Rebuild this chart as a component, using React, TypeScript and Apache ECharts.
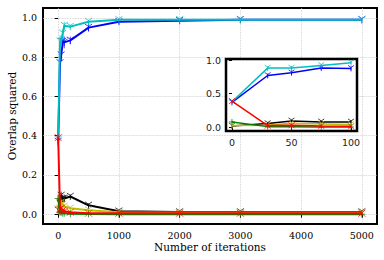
import React, { useEffect, useRef } from "react";
import * as echarts from "echarts";

const iterations = [0, 30, 50, 75, 100, 200, 500, 1000, 2000, 3000, 5000];
const blueVals = [0.37, 0.77, 0.81, 0.88, 0.875, 0.885, 0.95, 0.98, 0.985, 0.99, 0.99];
const cyanVals = [0.38, 0.88, 0.88, 0.92, 0.96, 0.955, 0.98, 0.99, 0.99, 0.99, 0.99];
const redVals = [0.39, 0.025, 0.03, 0.02, 0.015, 0.01, 0.005, 0.005, 0.005, 0.005, 0.005];
const blackVals = [0.02, 0.055, 0.095, 0.08, 0.08, 0.09, 0.045, 0.015, 0.011, 0.011, 0.011];
const yellowVals = [0.025, 0.03, 0.06, 0.05, 0.04, 0.03, 0.02, 0.01, 0.008, 0.008, 0.008];
const greenVals = [0.08, 0.01, 0.01, 0.005, 0.005, 0.002, 0.001, 0, 0, 0, 0];

const blueErr = [0.02, 0.03, 0.03, 0.03, 0.03, 0.02, 0.02, 0.01, 0.005, 0.003, 0.003];
const cyanErr = [0.02, 0.03, 0.03, 0.02, 0.02, 0.01, 0.01, 0.005, 0.003, 0.003, 0.003];
const redErr = [0.02, 0.01, 0.01, 0.01, 0.01, 0.005, 0.003, 0.002, 0.002, 0.002, 0.002];
const blackErr = [0.01, 0.02, 0.02, 0.02, 0.02, 0.01, 0.01, 0.005, 0.003, 0.003, 0.003];
const yellowErr = [0.01, 0.01, 0.01, 0.01, 0.01, 0.005, 0.005, 0.003, 0.002, 0.002, 0.002];
const greenErr = [0.02, 0.01, 0.01, 0.005, 0.005, 0.002, 0.001, 0.001, 0.001, 0.001, 0.001];

const mainXTicks = [0, 1000, 2000, 3000, 4000, 5000];
const mainYTicks = [0, 0.2, 0.4, 0.6, 0.8, 1.0];
const insetXTicks = [0, 50, 100];
const insetYTicks = [0, 0.5, 1.0];
const INSET_N = 5;

const TRI = "path://M5,5L5,10M5,5L0.67,2.5M5,5L9.33,2.5";
const XMARK = "path://M0,0L10,10M10,0L0,10";
const PLUS = "path://M5,0L5,10M0,5L10,5";

const seriesDefs = [
  { name: "blue", vals: blueVals, err: blueErr, color: "#0000ff", symbol: TRI },
  { name: "cyan", vals: cyanVals, err: cyanErr, color: "#00bfbf", symbol: TRI },
  { name: "black", vals: blackVals, err: blackErr, color: "#000000", symbol: TRI },
  { name: "yellow", vals: yellowVals, err: yellowErr, color: "#bfbf00", symbol: TRI },
  { name: "green", vals: greenVals, err: greenErr, color: "#008000", symbol: PLUS },
  { name: "red", vals: redVals, err: redErr, color: "#ff0000", symbol: XMARK },
];

export default function App() {
  const ref = useRef<HTMLDivElement>(null);
  useEffect(() => {
    if (!ref.current) return;
    const chart = echarts.init(ref.current, undefined, { renderer: "svg" });
    const serif = "DejaVu Serif";
    const sans = "DejaVu Sans";

    const series: any[] = [];
    seriesDefs.forEach((d, k) => {
      const full = iterations.map((x, i) => [x, d.vals[i]]);
      const errFull = iterations.map((x, i) => [x, d.vals[i] - d.err[i], d.vals[i] + d.err[i]]);
      [0, 1].forEach((g) => {
        const n = g === 0 ? iterations.length : INSET_N;
        const z = g === 0 ? 2 + k * 0.01 : 12 + k * 0.01;
        series.push({
          type: "custom",
          xAxisIndex: g,
          yAxisIndex: g,
          z,
          silent: true,
          clip: true,
          data: errFull.slice(0, n),
          renderItem: (params: any, api: any) => {
            const lo = api.coord([api.value(0), api.value(1)]);
            const hi = api.coord([api.value(0), api.value(2)]);
            return {
              type: "line",
              shape: { x1: lo[0], y1: lo[1], x2: hi[0], y2: hi[1] },
              style: { stroke: d.color, lineWidth: 1, opacity: 0.7 },
            };
          },
        });
        series.push({
          type: "line",
          name: d.name,
          xAxisIndex: g,
          yAxisIndex: g,
          z,
          data: full.slice(0, n),
          showSymbol: true,
          showAllSymbol: true,
          symbol: d.symbol,
          symbolSize: g === 0 ? 7 : 6,
          lineStyle: { color: d.color, width: g === 0 ? 2 : 1.5 },
          itemStyle: { color: d.color, borderColor: d.color, borderWidth: 1, opacity: 0.75 },
          silent: true,
        });
      });
    });

    chart.setOption({
      animation: false,
      backgroundColor: "#fff",
      grid: [
        { left: 43, top: 8, width: 334, height: 216, show: true, borderColor: "#000", borderWidth: 2, backgroundColor: "transparent", z: 0, containLabel: false, outerBoundsMode: "none" },
        { left: 226, top: 59, width: 131, height: 72, show: true, borderColor: "#000", borderWidth: 2.5, backgroundColor: "#fff", z: 10, containLabel: false, outerBoundsMode: "none" },
      ],
      xAxis: [
        {
          type: "value", gridIndex: 0, min: -250, max: 5250,
          name: "Number of iterations", nameLocation: "middle", nameGap: 17, nameMoveOverlap: false,
          nameTextStyle: { fontFamily: serif, fontSize: 10.5, color: "#000" },
          axisLine: { show: false },
          axisTick: { show: true, length: 3.5, lineStyle: { color: "#000", width: 1 }, customValues: mainXTicks },
          axisLabel: { fontFamily: serif, fontSize: 9.5, color: "#000", margin: 6, customValues: mainXTicks, formatter: (v: number) => String(v) },
          splitLine: { show: true, lineStyle: { color: "#c8c8c8", type: "dotted", width: 0.8 } },
        },
        {
          type: "value", gridIndex: 1, min: -5, max: 105, z: 11,
          axisLine: { show: false },
          axisTick: { show: true, length: 3, lineStyle: { color: "#000", width: 1 }, customValues: insetXTicks },
          axisLabel: { fontFamily: sans, fontSize: 9.5, color: "#222", margin: 6, customValues: insetXTicks, formatter: (v: number) => String(v) },
          splitLine: { show: false },
        },
      ],
      yAxis: [
        {
          type: "value", gridIndex: 0, min: -0.05, max: 1.05,
          name: "Overlap squared", nameLocation: "middle", nameGap: 26, nameMoveOverlap: false,
          nameTextStyle: { fontFamily: serif, fontSize: 10.5, color: "#000" },
          axisLine: { show: false },
          axisTick: { show: true, length: 3.5, lineStyle: { color: "#000", width: 1 }, customValues: mainYTicks },
          axisLabel: { fontFamily: serif, fontSize: 9.5, color: "#000", margin: 6, customValues: mainYTicks, formatter: (v: number) => v.toFixed(1) },
          splitLine: { show: true, lineStyle: { color: "#c8c8c8", type: "dotted", width: 0.8 } },
        },
        {
          type: "value", gridIndex: 1, min: -0.055, max: 1.015, z: 11,
          axisLine: { show: false },
          axisTick: { show: true, length: 3, lineStyle: { color: "#000", width: 1 }, customValues: insetYTicks },
          axisLabel: { fontFamily: sans, fontSize: 9.5, color: "#222", margin: 5, customValues: insetYTicks, formatter: (v: number) => v.toFixed(1) },
          splitLine: { show: false },
        },
      ],
      series,
    });
    return () => chart.dispose();
  }, []);
  return <div ref={ref} style={{ width: 384, height: 260, position: "absolute", left: 0, top: 0 }} />;
}
